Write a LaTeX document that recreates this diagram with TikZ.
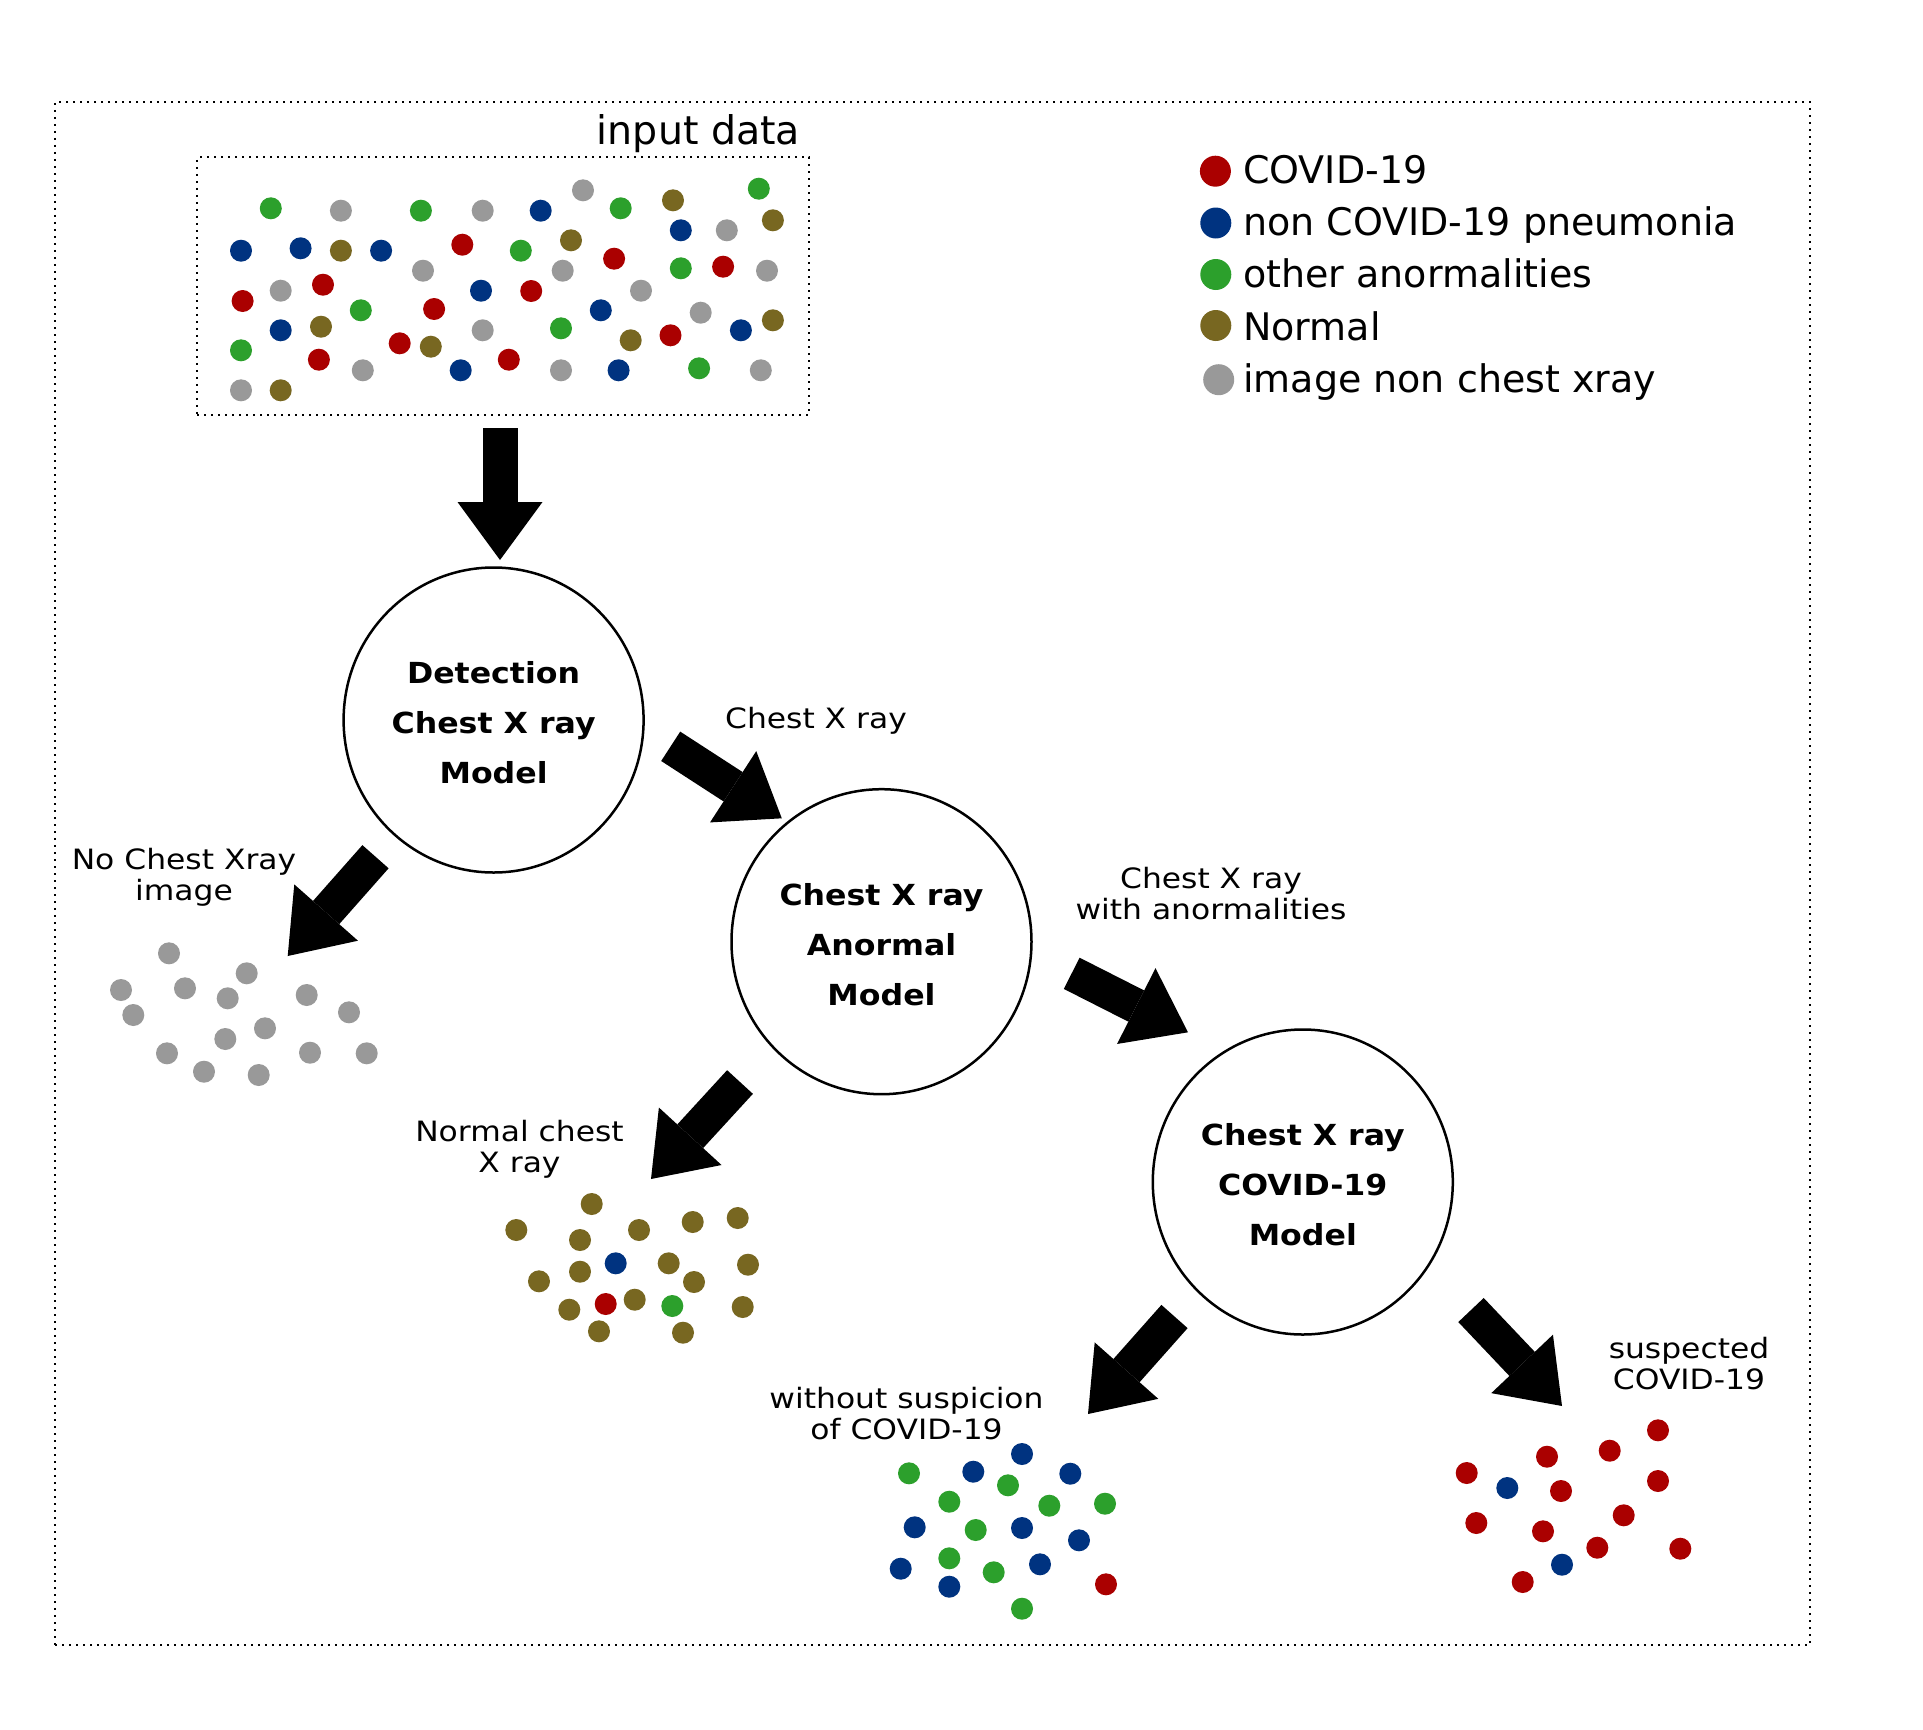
\documentclass[tikz,border=0pt]{standalone}
\usepackage{fontspec}
\setmainfont{DejaVu Sans}
\newfontfamily\lblfont[FakeStretch=1.12]{DejaVu Sans}
\newfontfamily\mdlfont[FakeStretch=1.09]{DejaVu Sans}
\usetikzlibrary{arrows.meta,shapes.geometric}
\definecolor{cRed}{HTML}{AA0000}
\definecolor{cBlue}{HTML}{003380}
\definecolor{cGreen}{HTML}{2CA02C}
\definecolor{cOlive}{HTML}{786721}
\definecolor{cGrey}{HTML}{999999}
\newcommand{\topstrut}{\rule{0pt}{28pt}}
\begin{document}
\begin{tikzpicture}[x=1pt,y=-1pt,
  frame/.style={draw,line width=2pt,dash pattern=on 2pt off 5pt},
  model/.style={draw,line width=2.5pt,ellipse,minimum width=300pt,minimum height=305pt,inner sep=0pt,align=center,font=\mdlfont\bfseries\fontsize{29}{50}\selectfont},
  lbl/.style={anchor=north,inner sep=0pt,align=center,font=\lblfont\fontsize{28}{31.5}\selectfont},
  legtxt/.style={anchor=base west,inner sep=0pt,font=\fontsize{38}{45}\selectfont},
  flow/.style={line width=35pt,line join=round,-{Triangle[width=85pt,length=58pt,line width=0pt]}},
]
\useasboundingbox (0,0) rectangle (1923,1730);
\fill[white] (0,0) rectangle (1923,1730);

% frames
\node[frame,inner sep=0pt,minimum width=1755pt,minimum height=1543pt] (outer) at (932.5,873.5) {};
\node[frame,inner sep=0pt,minimum width=611.6pt,minimum height=258pt] (inbox) at (503.2,286) {};
\node[anchor=base,inner sep=0pt,font=\fontsize{39.5}{46}\selectfont] (intitle) at (698.5,144) {input data};

% input dots
\foreach \x/\y in {270.8/208.3,420.9/210.7,620.7/208.3,758.8/188.7,520.8/250.7,680.8/268.3,360.8/310.3,241/350.3,561/328.3,699.1/368.3}
  \fill[cGreen] (\x,\y) circle[radius=11pt];
\foreach \x/\y in {340.9/210.7,482.7/210.7,583/190.3,726.8/230.3,767/270.7,423/270.7,562.7/270.7,280.7/290.7,641/290.7,700.7/312.7,482.7/330.3,362.8/370.3,561/370.3,760.8/370.3,241/390.3}
  \fill[cGrey] (\x,\y) circle[radius=11pt];
\foreach \x/\y in {540.7/210.7,680.8/230.3,241/250.7,300.6/248.3,381.1/250.7,481/290.7,600.8/310.3,740.9/330.3,280.7/330.3,460.7/370.3,618.6/370.3}
  \fill[cBlue] (\x,\y) circle[radius=11pt];
\foreach \x/\y in {673/200.3,772.9/220.3,340.9/250.7,571/240.3,772.9/320.3,321/326.7,430.8/346.7,630.7/340.3,280.7/390.3}
  \fill[cOlive] (\x,\y) circle[radius=11pt];
\foreach \x/\y in {462.3/244.7,614.1/258.7,723.1/266.7,242.6/301,323/284.7,531.2/291,434.1/309,318.9/359.7,399.7/343.3,670.5/335.3,508.8/359.7}
  \fill[cRed] (\x,\y) circle[radius=11pt];

% legend
\fill[cRed] (1215.4,171.2) circle[radius=15.5pt];
\fill[cBlue] (1215.8,223) circle[radius=15.5pt];
\fill[cGreen] (1215.8,274.5) circle[radius=15.5pt];
\fill[cOlive] (1215.8,325.5) circle[radius=15.5pt];
\fill[cGrey] (1218.7,379.7) circle[radius=15.5pt];
\node[legtxt] (lg1) at (1243,183.3) {COVID-19};
\node[legtxt] (lg2) at (1243,235) {non COVID-19 pneumonia};
\node[legtxt] (lg3) at (1243,287.7) {other anormalities};
\node[legtxt] (lg4) at (1243,340) {Normal};
\node[legtxt] (lg5) at (1243,392.3) {image non chest xray};

% models
\node[model] (det) at (493.6,720) {\topstrut Detection\\Chest X ray\\Model};
\node[model] (anom) at (881.5,941.7) {\topstrut Chest X ray\\Anormal\\Model};
\node[model] (cov) at (1302.8,1182) {\topstrut Chest X ray\\COVID-19\\Model};

% labels
\node[lbl] (l1) at (816,706.7) {Chest X ray};
\node[lbl] (l2) at (184,847.7) {No Chest Xray\\image};
\node[lbl] (l3) at (1211,866.7) {Chest X ray\\with anormalities};
\node[lbl] (l4) at (519.5,1119.7) {Normal chest\\X ray};
\node[lbl] (l5) at (906.5,1386.7) {without suspicion\\of COVID-19};
\node[lbl] (l6) at (1689,1336.7) {suspected\\COVID-19};

% block arrows
\coordinate (a1s) at (500,428.3);   \coordinate (a1e) at (500,560);
\coordinate (a2s) at (670.7,746.3); \coordinate (a2e) at (781.8,818.3);
\coordinate (a3s) at (375.5,856.7); \coordinate (a3e) at (287.7,956);
\coordinate (a4s) at (740,1082);    \coordinate (a4e) at (651,1179);
\coordinate (a5s) at (1071.7,973.3);\coordinate (a5e) at (1188,1032.3);
\coordinate (a6s) at (1174.5,1316.5);\coordinate (a6e) at (1088,1414);
\coordinate (a7s) at (1471,1310);   \coordinate (a7e) at (1562,1406);
\draw[flow] (a1s) -- (a1e);
\draw[flow] (a2s) -- (a2e);
\draw[flow] (a3s) -- (a3e);
\draw[flow] (a4s) -- (a4e);
\draw[flow] (a5s) -- (a5e);
\draw[flow] (a6s) -- (a6e);
\draw[flow] (a7s) -- (a7e);

% grey cluster
\foreach \x/\y in {169/953.3,121/990,133.3/1015,185/988.3,227.7/998.3,246.7/973.3,306.7/995,349/1012.3,265/1028.3,225.3/1039,167/1053.3,204/1071.7,258.7/1075,310/1052.7,366.7/1053.3}
  \fill[cGrey] (\x,\y) circle[radius=11pt];

% normal cluster
\foreach \x/\y in {591.7/1204,516.3/1230,580/1240,639/1230,692.7/1222,737.7/1218,580/1271.7,539/1281.3,668.7/1263.3,694/1282,748/1264.7,634.7/1299.7,569.3/1309.7,742.7/1307,599/1331.3,683/1332.7}
  \fill[cOlive] (\x,\y) circle[radius=11pt];
\fill[cBlue] (615.7,1263.3) circle[radius=11pt];
\fill[cRed] (605.7,1304) circle[radius=11pt];
\fill[cGreen] (672.3,1306) circle[radius=11pt];

% without suspicion cluster
\foreach \x/\y in {1022/1454,973.3/1471.7,1070.3/1473.7,914.7/1527.3,1022/1528,1079/1540.3,900.7/1568.7,1040/1564.3,949.3/1586.7}
  \fill[cBlue] (\x,\y) circle[radius=11pt];
\foreach \x/\y in {909/1473.3,1008/1485.3,949.3/1501.7,1049.3/1505.7,1105/1503.7,975.7/1530,949.3/1558.3,993.7/1572.3,1022/1608.7}
  \fill[cGreen] (\x,\y) circle[radius=11pt];
\fill[cRed] (1106,1584.3) circle[radius=11pt];

% suspected cluster
\foreach \x/\y in {1658/1430.3,1609.7/1450.7,1547/1456.7,1466.7/1473,1561/1491,1658/1481,1623.7/1515.3,1476.3/1523,1543/1531.3,1597.3/1547.7,1680.3/1548.7,1522.7/1582}
  \fill[cRed] (\x,\y) circle[radius=11pt];
\fill[cBlue] (1507.3,1488) circle[radius=11pt];
\fill[cBlue] (1562,1564.7) circle[radius=11pt];
\end{tikzpicture}
\end{document}
